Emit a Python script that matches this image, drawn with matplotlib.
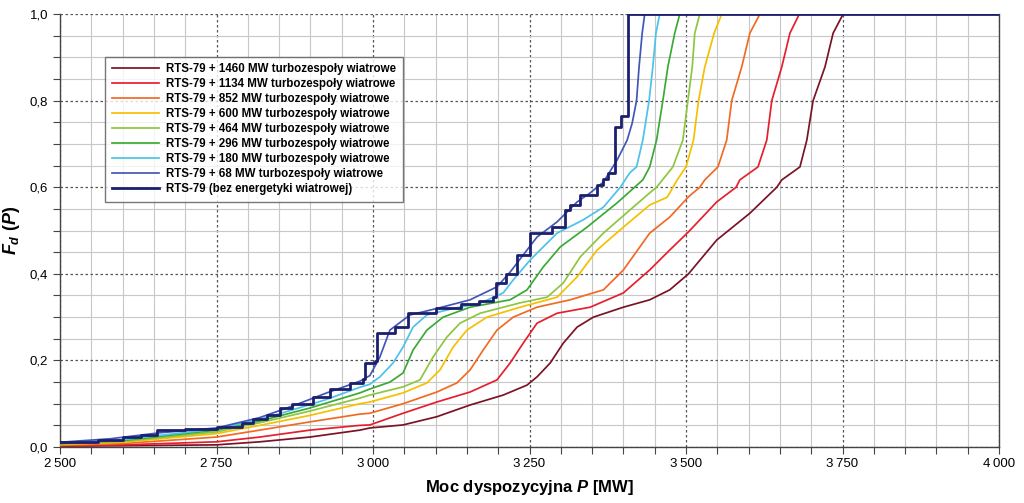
import matplotlib.pyplot as plt
from matplotlib.ticker import MultipleLocator, FuncFormatter

plt.rcParams['font.family'] = ['Liberation Sans', 'DejaVu Sans']
plt.rcParams['mathtext.fontset'] = 'custom'
plt.rcParams['mathtext.it'] = 'Liberation Sans:italic:bold'
plt.rcParams['mathtext.rm'] = 'Liberation Sans:bold'

# --- data (MW, F_d) ---
base_x = [2500, 2560, 2600, 2630, 2655, 2700, 2750, 2790, 2808, 2830, 2851, 2870, 2904, 2931,
          2963, 2984, 2987, 3003, 3006, 3035, 3056, 3100, 3140, 3170, 3192, 3197, 3212, 3230,
          3251, 3286, 3307, 3315, 3331, 3358, 3368, 3375, 3387, 3396, 3407, 4000]
base_y = [0.012, 0.016, 0.022, 0.027, 0.039, 0.042, 0.047, 0.055, 0.065, 0.075, 0.09, 0.10, 0.115, 0.134,
          0.148, 0.157, 0.194, 0.198, 0.263, 0.277, 0.31, 0.32, 0.33, 0.338, 0.346, 0.379, 0.40, 0.443,
          0.494, 0.508, 0.547, 0.56, 0.582, 0.605, 0.62, 0.633, 0.739, 0.764, 1.0, 1.0]

w68_x = [2500, 2580, 2660, 2750, 2819, 2872, 2926, 2979, 2995, 3011, 3027, 3059, 3102, 3155, 3198,
         3219, 3246, 3262, 3294, 3326, 3347, 3368, 3390, 3406, 3414, 3421, 3425, 3430, 3434, 4000]
w68_y = [0.011, 0.019, 0.033, 0.044, 0.068, 0.095, 0.125, 0.152, 0.165, 0.208, 0.27, 0.305, 0.32, 0.34, 0.37,
         0.404, 0.455, 0.485, 0.52, 0.566, 0.587, 0.612, 0.663, 0.709, 0.748, 0.80, 0.878, 0.956, 1.0, 1.0]

w180_x = [2500, 2600, 2750, 2819, 2872, 2926, 2979, 2995, 3011, 3032, 3048, 3064, 3086, 3128, 3171,
          3208, 3224, 3251, 3294, 3335, 3368, 3395, 3410, 3421, 3431, 3441, 3447, 3452, 3458, 4000]
w180_y = [0.010, 0.017, 0.042, 0.064, 0.086, 0.11, 0.138, 0.145, 0.162, 0.194, 0.231, 0.277, 0.305, 0.32, 0.332,
          0.356, 0.386, 0.432, 0.494, 0.524, 0.554, 0.60, 0.633, 0.647, 0.709, 0.80, 0.878, 0.956, 1.0, 1.0]

w296_x = [2500, 2600, 2750, 2819, 2899, 2979, 2995, 3027, 3048, 3064, 3086, 3112, 3155, 3219, 3246,
          3272, 3299, 3342, 3390, 3431, 3442, 3453, 3463, 3471, 3482, 3490, 4000]
w296_y = [0.008, 0.015, 0.039, 0.06, 0.09, 0.125, 0.134, 0.15, 0.171, 0.224, 0.27, 0.30, 0.323, 0.34, 0.363,
          0.416, 0.462, 0.508, 0.564, 0.617, 0.647, 0.709, 0.80, 0.878, 0.956, 1.0, 1.0]

w464_x = [2500, 2600, 2750, 2819, 2899, 2979, 2995, 3048, 3075, 3096, 3118, 3139, 3171, 3235, 3278,
          3304, 3331, 3368, 3410, 3442, 3453, 3479, 3495, 3503, 3510, 3514, 3522, 4000]
w464_y = [0.007, 0.013, 0.035, 0.056, 0.083, 0.113, 0.12, 0.139, 0.155, 0.208, 0.254, 0.286, 0.309, 0.333, 0.346,
          0.379, 0.439, 0.494, 0.547, 0.587, 0.60, 0.647, 0.709, 0.80, 0.878, 0.956, 1.0, 1.0]

w600_x = [2500, 2600, 2750, 2819, 2899, 2979, 2995, 3048, 3086, 3107, 3128, 3150, 3182, 3235, 3294,
          3326, 3358, 3400, 3442, 3470, 3486, 3500, 3512, 3520, 3530, 3545, 3557, 4000]
w600_y = [0.006, 0.011, 0.031, 0.05, 0.073, 0.10, 0.104, 0.125, 0.148, 0.178, 0.231, 0.27, 0.30, 0.323, 0.346,
          0.393, 0.455, 0.508, 0.559, 0.577, 0.617, 0.647, 0.709, 0.80, 0.878, 0.956, 1.0, 1.0]

w852_x = [2500, 2600, 2750, 2819, 2899, 2979, 2995, 3048, 3102, 3134, 3155, 3176, 3198, 3224, 3262,
          3315, 3368, 3400, 3442, 3474, 3504, 3522, 3530, 3551, 3565, 3573, 3589, 3602, 3618, 4000]
w852_y = [0.004, 0.008, 0.023, 0.039, 0.058, 0.076, 0.078, 0.10, 0.127, 0.148, 0.178, 0.224, 0.27, 0.30, 0.323,
          0.34, 0.363, 0.409, 0.494, 0.531, 0.578, 0.60, 0.617, 0.647, 0.709, 0.80, 0.878, 0.956, 1.0, 1.0]

w1134_x = [2500, 2600, 2750, 2819, 2899, 2979, 2995, 3048, 3102, 3155, 3198, 3219, 3240, 3262, 3294,
           3347, 3400, 3442, 3474, 3504, 3549, 3580, 3586, 3615, 3629, 3637, 3653, 3666, 3681, 4000]
w1134_y = [0.003, 0.005, 0.012, 0.023, 0.039, 0.05, 0.051, 0.078, 0.104, 0.127, 0.155, 0.194, 0.24, 0.286, 0.309,
           0.323, 0.356, 0.409, 0.455, 0.497, 0.566, 0.60, 0.617, 0.647, 0.709, 0.80, 0.878, 0.956, 1.0, 1.0]

w1460_x = [2500, 2600, 2750, 2819, 2899, 2979, 2995, 3048, 3102, 3155, 3208, 3246, 3262, 3283, 3304,
           3326, 3352, 3400, 3442, 3474, 3504, 3549, 3602, 3645, 3653, 3682, 3693, 3703, 3722, 3735, 3751, 4000]
w1460_y = [0.002, 0.003, 0.005, 0.012, 0.023, 0.039, 0.044, 0.051, 0.07, 0.097, 0.12, 0.143, 0.162, 0.194, 0.24,
           0.277, 0.30, 0.323, 0.34, 0.363, 0.40, 0.478, 0.54, 0.60, 0.617, 0.647, 0.709, 0.80, 0.878, 0.956, 1.0, 1.0]

labels = ['RTS-79 + 1460 MW turbozespoły wiatrowe',
          'RTS-79 + 1134 MW turbozespoły wiatrowe',
          'RTS-79 + 852 MW turbozespoły wiatrowe',
          'RTS-79 + 600 MW turbozespoły wiatrowe',
          'RTS-79 + 464 MW turbozespoły wiatrowe',
          'RTS-79 + 296 MW turbozespoły wiatrowe',
          'RTS-79 + 180 MW turbozespoły wiatrowe',
          'RTS-79 + 68 MW turbozespoły wiatrowe',
          'RTS-79 (bez energetyki wiatrowej)']
colors = ['#7a1424', '#e5202e', '#f26a24', '#f5c000', '#8dc63f', '#3aaa35', '#4cc2ea', '#4256b8', '#1b1f6e']

series = [(w1460_x, w1460_y), (w1134_x, w1134_y), (w852_x, w852_y), (w600_x, w600_y),
          (w464_x, w464_y), (w296_x, w296_y), (w180_x, w180_y), (w68_x, w68_y)]

fig = plt.figure(figsize=(10.24, 5.03), dpi=100)
ax = fig.add_axes([0.0586, 0.1113, 0.917, 0.8607])

for (xs, ys), lab, c in zip(series, labels[:-1], colors[:-1]):
    ax.plot(xs, ys, color=c, lw=1.25, label=lab, zorder=3)
ax.plot(base_x, base_y, color=colors[-1], lw=2.0, drawstyle='steps-post', label=labels[-1], zorder=4)

ax.set_xlim(2500, 4000)
ax.set_ylim(0, 1.0)
ax.xaxis.set_major_locator(MultipleLocator(250))
ax.xaxis.set_minor_locator(MultipleLocator(50))
ax.yaxis.set_major_locator(MultipleLocator(0.2))
ax.yaxis.set_minor_locator(MultipleLocator(0.05))
ax.xaxis.set_major_formatter(FuncFormatter(lambda v, p: f'{int(v):,}'.replace(',', '\u2009')))
ax.yaxis.set_major_formatter(FuncFormatter(lambda v, p: f'{v:.1f}'.replace('.', ',')))

ax.grid(which='minor', color='#c8c8c8', lw=0.8, ls='-', zorder=0)
ax.grid(which='major', color='#555555', lw=0.9, ls=(0, (2, 2)), zorder=1)
ax.tick_params(which='both', direction='out', length=5, width=0.8, colors='#444444', labelcolor='black',
               labelsize=9.5)
ax.tick_params(axis='x', pad=3)
for s in ['left', 'bottom', 'right']:
    ax.spines[s].set_color('#444444')
    ax.spines[s].set_linewidth(1.0)
ax.spines['top'].set_visible(False)

ax.set_xlabel('Moc dyspozycyjna $P$ [MW]', fontsize=12, fontweight='bold', labelpad=6)
ax.set_ylabel('$F_d\\ (P)$', fontsize=13)
ax.yaxis.set_label_coords(-0.040, 0.5)

leg = ax.legend(loc='upper left', bbox_to_anchor=(0.048, 0.902), borderaxespad=0, frameon=True,
                fancybox=False, edgecolor='#555555', handlelength=4.1, handletextpad=0.6,
                labelspacing=0.26, borderpad=0.6, prop={'weight': 'bold', 'size': 8.3})
leg.get_frame().set_linewidth(1.0)

fig.savefig('out.png', dpi=100)
